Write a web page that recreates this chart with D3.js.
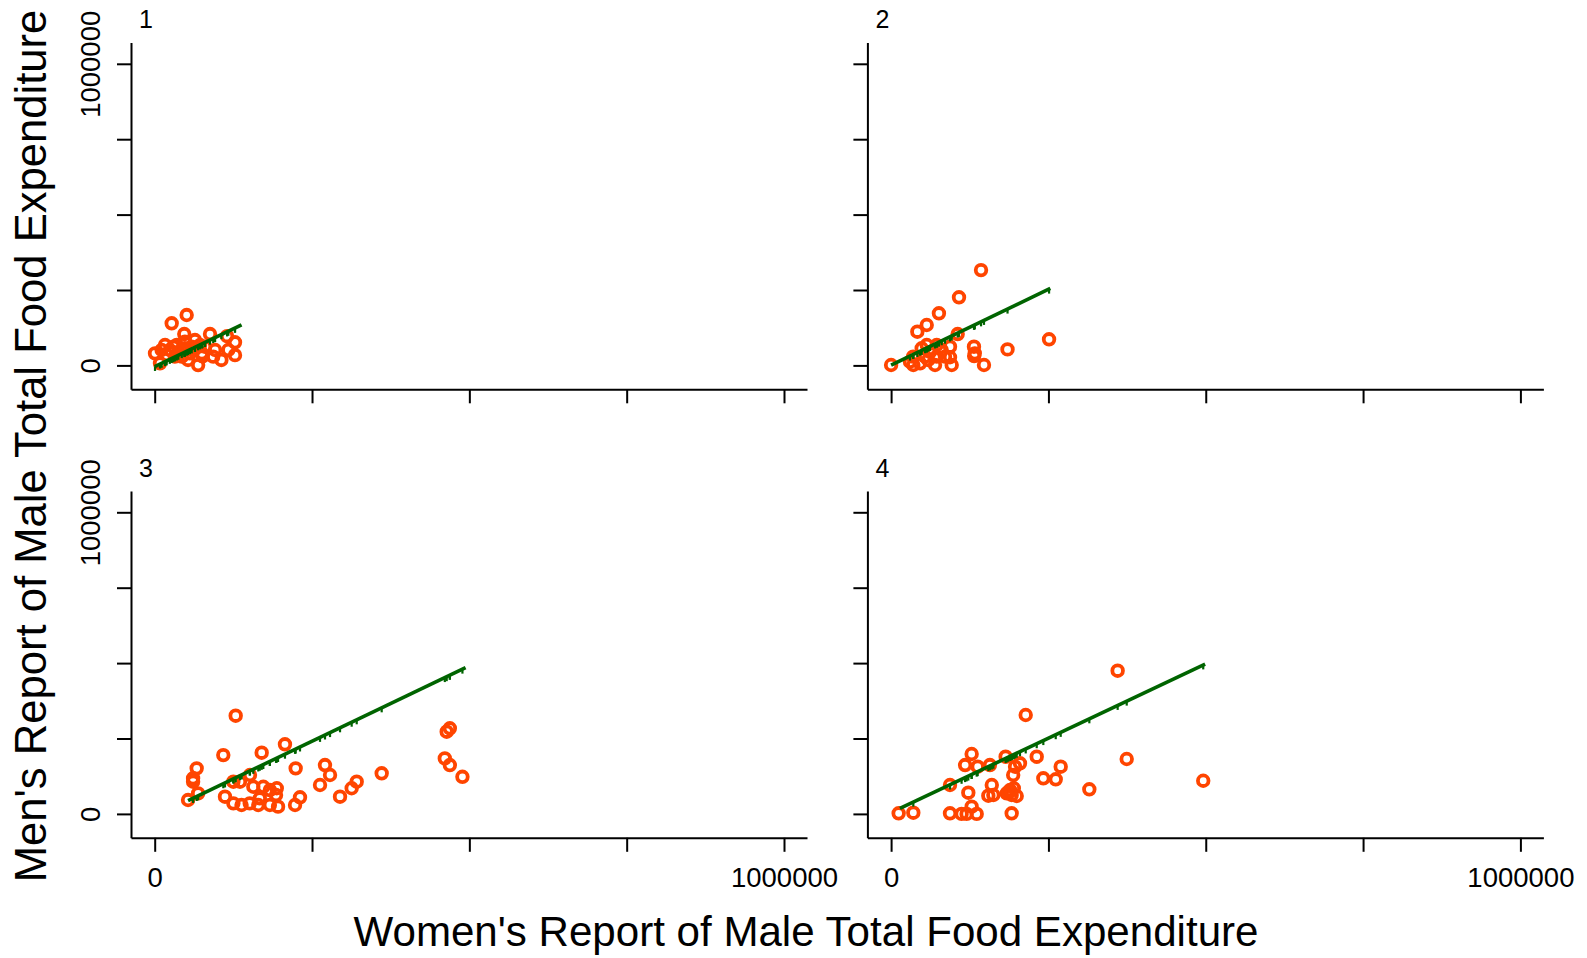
<!DOCTYPE html>
<html>
<head>
<meta charset="utf-8">
<script src="https://cdn.jsdelivr.net/npm/d3@7"></script>
<style>
  body { margin: 0; background: #fff; }
  text { font-family: "Liberation Sans", Arial, sans-serif; fill: #000; }
</style>
</head>
<body>
<div id="Area1"></div>
<script>
// data: [women's report, men's report]
var panel1Pts = [
  [50800,167000],[27000,139600],[47000,104000],[87900,104000],[115000,97000],[127600,76600],
  [64000,84000],[500,40000],[8400,7000],[69000,1000],[106000,18000],[127600,34000],
  [117000,51000],[96000,51000],[53000,18000],[16400,67600],[29600,62000],[37500,45000],
  [48000,56700],[58800,62000],[19000,34500],[32000,29000],[43000,29000],[24000,51000],
  [56000,40000],[75000,40000],[80000,62000],[93000,29000],[11000,51000],[35000,67600],
  [48000,78600],[64000,56700],[72000,67600],[76000,30000]
];
var panel2Pts = [
  [142900,316000],[107900,225800],[76000,172700],[56600,134000],[41700,111700],[105800,104000],
  [0,1300],[131700,62000],[132000,31000],[147600,1300],[185000,53000],[251000,86500],
  [35000,29000],[48600,56700],[56600,67600],[72500,67600],[93600,62000],[93600,27000],
  [96300,1300],[69800,1300],[35300,1300],[54000,29000],[61800,45000],[80400,51000],
  [72500,29000],[46000,7000],[30000,12000],[59000,18000],[85600,29000],[133000,40000]
];
var panel3Pts = [
  [128700,325600],[109000,195000],[170000,203000],[207000,230800],[224000,151000],[270600,162000],
  [278600,129000],[262700,95800],[230900,55000],[223000,29500],[294500,57000],[313000,85000],
  [321000,106800],[360700,134600],[464000,272500],[469000,283800],[461000,184000],[469000,162000],
  [489000,123000],[66700,151000],[61000,118000],[61000,106800],[69000,68000],[53000,46000],
  [111700,57000],[125000,106800],[135500,106800],[151400,129000],[156700,90000],[172600,90000],
  [183000,79000],[194000,85000],[192800,62700],[167000,51700],[151000,35000],[138000,29500],
  [125000,35000],[183000,29500],[196000,24000],[164600,29500]
];
var panel4Pts = [
  [360000,474800],[213900,328000],[374400,182000],[496000,110000],[315000,81600],[269500,156500],
  [261600,114700],[241900,118000],[231400,189700],[182000,189700],[204800,167800],[194000,129000],
  [197000,156500],[157000,162000],[137600,156500],[128000,198600],[117600,162000],[93600,95800],
  [122700,70300],[160000,95800],[154500,60300],[162500,62700],[189000,79000],[191600,62700],
  [199600,59400],[183700,68000],[12000,2000],[35300,4000],[93600,2000],[112000,0],
  [120000,0],[136000,0],[128000,24000],[191600,2000],[186000,72000],[195000,85000],[190000,75000]
];
// green reference line, start and end as read
var fit1 = [[0,-4000],[138000,134000]];
var fit2 = [[0,1000],[253000,255000]];
var fit3 = [[53000,44000],[494000,485000]];
var fit4 = [[14000,18000],[499000,497000]];

var xTicks = [0, 250000, 500000, 750000, 1000000];
var yTicks = [0, 250000, 500000, 750000, 1000000];
var labeledTicks = [0, 1000000];
var panelNames = ["1", "2", "3", "4"];

var W = 1587, H = 958;
var pw = 676, ph = 346.8;

var svg = d3.select("#Area1")
  .append("svg")
  .attr("width", W)
  .attr("height", H);

var xscl = d3.scaleLinear().domain([-37660, 1036550]).range([0, pw]);
var yscl = d3.scaleLinear().domain([-79240, 1070620]).range([ph, 0]);

var lab = function(d) { return labeledTicks.indexOf(d) >= 0 ? d3.format("d")(d) : ""; };

function drawPanel(i, left, top, pts, fit, showX, showY) {
  var g = svg.append("g").attr("transform", "translate(" + left + "," + top + ")");

  // axes
  var ax = g.append("g")
    .attr("transform", "translate(0," + ph + ")")
    .call(d3.axisBottom(xscl).tickValues(xTicks).tickSize(14).tickSizeOuter(0)
      .tickFormat(showX ? lab : ""));
  ax.selectAll("text").attr("y", 49.5).attr("dy", 0).attr("font-size", 27.5)
    .style("font-family", "'Liberation Sans', Arial, sans-serif");

  var ay = g.append("g")
    .call(d3.axisLeft(yscl).tickValues(yTicks).tickSize(14).tickSizeOuter(0)
      .tickFormat(showY ? lab : ""));
  ay.selectAll("text")
    .attr("transform", "rotate(-90)")
    .attr("x", 0).attr("y", -31).attr("dy", 0)
    .attr("text-anchor", "middle").attr("font-size", 27.5)
    .style("font-family", "'Liberation Sans', Arial, sans-serif");

  g.selectAll(".domain, .tick line").attr("stroke", "#000").attr("stroke-width", 2);

  // panel name
  g.append("text")
    .attr("x", 8).attr("y", -14.5)
    .attr("font-size", 25)
    .text(panelNames[i]);

  // reference line
  var myline = d3.line()
    .x(function(d) { return xscl(d[0]); })
    .y(function(d) { return yscl(d[1]); });

  // points
  g.selectAll("circle.pt").data(pts).enter()
    .append("circle")
    .attr("class", "pt")
    .attr("cx", function(d) { return xscl(d[0]); })
    .attr("cy", function(d) { return yscl(d[1]); })
    .attr("r", 5.3)
    .attr("fill", "none")
    .attr("stroke", "#FF4500")
    .attr("stroke-width", 3.8);

  g.append("path")
    .attr("d", myline(fit))
    .style("fill", "none")
    .style("stroke", "#006400")
    .style("stroke-width", 3.6);

  // small marks along the line at the observations' x
  var slope = (fit[1][1] - fit[0][1]) / (fit[1][0] - fit[0][0]);
  var onLine = pts.filter(function(d) { return d[0] > fit[0][0] && d[0] < fit[1][0]; });
  g.selectAll("line.mk").data(onLine).enter()
    .append("line")
    .attr("class", "mk")
    .attr("x1", function(d) { return xscl(d[0]); })
    .attr("x2", function(d) { return xscl(d[0]); })
    .attr("y1", function(d) { return yscl(fit[0][1] + slope * (d[0] - fit[0][0])); })
    .attr("y2", function(d) { return yscl(fit[0][1] + slope * (d[0] - fit[0][0])) + 4.5; })
    .attr("stroke", "#006400")
    .attr("stroke-width", 2.2);
}

drawPanel(0, 131, 42.5, panel1Pts, fit1, false, true);
drawPanel(1, 867.4, 42.5, panel2Pts, fit2, false, false);
drawPanel(2, 131, 491, panel3Pts, fit3, true, true);
drawPanel(3, 867.4, 491, panel4Pts, fit4, true, false);

// axis titles
svg.append("text")
  .attr("x", 806).attr("y", 946)
  .attr("text-anchor", "middle")
  .attr("font-size", 42.1)
  .text("Women's Report of Male Total Food Expenditure");

svg.append("text")
  .attr("transform", "translate(46,446) rotate(-90)")
  .attr("text-anchor", "middle")
  .attr("font-size", 43.6)
  .text("Men's Report of Male Total Food Expenditure");
</script>
</body>
</html>
